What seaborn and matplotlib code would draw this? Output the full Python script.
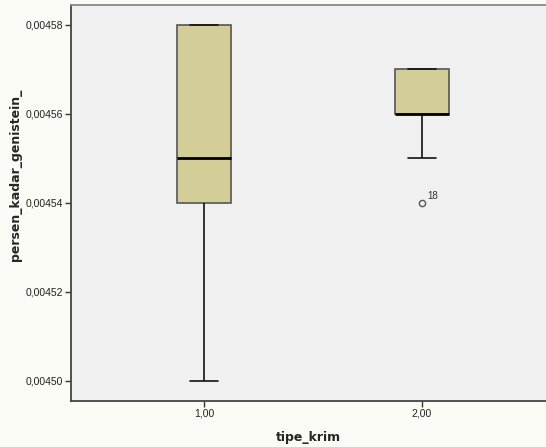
import numpy as np
import pandas as pd
import matplotlib
matplotlib.use("Agg")
import matplotlib.pyplot as plt
import matplotlib.ticker as mticker
import seaborn as sns

# Measurements of genistein content per cream type (rows 1-18)
tipe_krim = ["1,00"] * 9 + ["2,00"] * 9
persen_kadar_genistein = [
    0.00450, 0.00452, 0.00454, 0.00455, 0.00455, 0.00456, 0.00458, 0.00458, 0.00458,
    0.00455, 0.00456, 0.00456, 0.00456, 0.00457, 0.00457, 0.00457, 0.00457, 0.00454,
]
case_numbers = list(range(1, 19))
y_ticks = [0.00450, 0.00452, 0.00454, 0.00456, 0.00458]

df = pd.DataFrame({
    "tipe_krim": tipe_krim,
    "persen_kadar_genistein_": persen_kadar_genistein,
    "case": case_numbers,
})

sns.set_style("white")
plt.rcParams["font.family"] = ["Liberation Sans", "DejaVu Sans"]

fig = plt.figure(figsize=(5.46, 4.47), dpi=100)
fig.patch.set_facecolor("#fbfbf6")
ax = fig.add_axes([0.130, 0.103, 0.870, 0.886])
ax.set_facecolor("#f0f0f0")

sns.boxplot(
    data=df, x="tipe_krim", y="persen_kadar_genistein_", ax=ax,
    order=["1,00", "2,00"], width=0.25, color="#d3ce97", saturation=1,
    whis=1.5, linewidth=1.2, linecolor="#333333",
    boxprops=dict(edgecolor="#555555"),
    whiskerprops=dict(color="#111111"),
    capprops=dict(color="#111111"),
    medianprops=dict(color="#000000", linewidth=2.0),
    flierprops=dict(marker="o", markersize=4.5, markerfacecolor="none",
                    markeredgecolor="#555555", markeredgewidth=1.0),
)

# Label outliers with their case number
for i, grp in enumerate(["1,00", "2,00"]):
    sub = df[df["tipe_krim"] == grp]
    v = sub["persen_kadar_genistein_"].to_numpy()
    q1, q3 = np.percentile(v, [25, 75])
    iqr = q3 - q1
    out = sub[(v < q1 - 1.5 * iqr - 1e-12) | (v > q3 + 1.5 * iqr + 1e-12)]
    for _, r in out.iterrows():
        ax.annotate(str(r["case"]), (i, r["persen_kadar_genistein_"]),
                    xytext=(4, 3), textcoords="offset points",
                    fontsize=7, color="#333333")

ax.set_xlim(-0.61, 1.569)
ax.set_ylim(0.0044955, 0.0045845)
ax.set_yticks(y_ticks)
ax.yaxis.set_major_formatter(mticker.FuncFormatter(lambda v, p: f"{v:.5f}".replace(".", ",")))

ax.tick_params(axis="both", direction="out", length=4, width=1, color="#333333",
               labelsize=7.5, labelcolor="#222222", left=True, bottom=True, pad=1.5)

for s in ["left", "bottom"]:
    ax.spines[s].set_color("#444444")
    ax.spines[s].set_linewidth(1.3)
ax.spines["top"].set_color("#888888")
ax.spines["top"].set_linewidth(1.3)
ax.spines["right"].set_visible(False)

ax.set_xlabel("tipe_krim", fontsize=9, fontweight="bold", family="DejaVu Sans", labelpad=9)
ax.set_ylabel("persen_kadar_genistein_", fontsize=9, fontweight="bold", family="DejaVu Sans")
ax.yaxis.set_label_coords(-0.103, 0.571)

fig.savefig("out.png", dpi=100, facecolor=fig.get_facecolor())
